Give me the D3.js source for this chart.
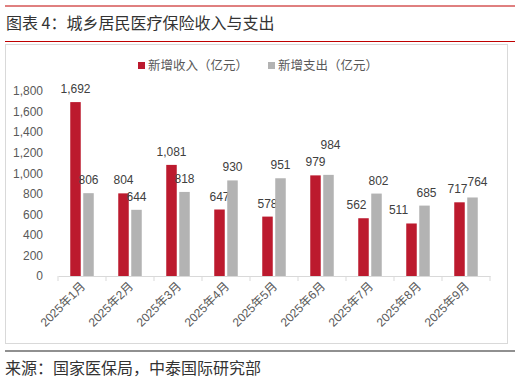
<!DOCTYPE html>
<html>
<head>
<meta charset="utf-8">
<script src="https://cdn.jsdelivr.net/npm/d3@7"></script>
<style>
  body { margin: 0; background: #fff; }
  svg { display: block; font-family: "Liberation Sans", "Noto Sans CJK SC", sans-serif; }
</style>
</head>
<body>
<svg id="chart" width="521" height="381"></svg>
<script>
// 数据
const months = ["2025年1月", "2025年2月", "2025年3月", "2025年4月", "2025年5月",
                "2025年6月", "2025年7月", "2025年8月", "2025年9月"];
const income = [1692, 804, 1081, 647, 578, 979, 562, 511, 717];
const expense = [806, 644, 818, 930, 951, 984, 802, 685, 764];
const seriesNames = ["新增收入（亿元）", "新增支出（亿元）"];
const yTicks = [0, 200, 400, 600, 800, 1000, 1200, 1400, 1600, 1800];

const RED = "#BC1A2E", GRAY = "#B3B3B3";
const cjk = '"Noto Sans CJK SC", sans-serif';

// 标签微调（与原图一致，避免重叠）
const nudge = {
    "0-2025年7月": [-7, 0],
    "0-2025年8月": [-13, 0],
    "0-2025年9月": [-2, 0],
    "1-2025年6月": [2, -17],
    "1-2025年7月": [2, 0],
    "1-2025年8月": [2, 0],
    "1-2025年9月": [5, -2]
};

const svg = d3.select("#chart");

// 页眉
svg.append("line").attr("x1", 5).attr("x2", 515).attr("y1", 6).attr("y2", 6)
    .attr("stroke", "#C00000").attr("stroke-width", 1);
svg.append("text").attr("x", 6).attr("y", 29)
    .style("font-family", cjk).style("font-size", "16px").attr("fill", "#333")
    .text("图表 4：城乡居民医疗保险收入与支出");
svg.append("line").attr("x1", 5).attr("x2", 515).attr("y1", 41.5).attr("y2", 41.5)
    .attr("stroke", "#C00000").attr("stroke-width", 1);

// 图框
svg.append("rect").attr("x", 5.5).attr("y", 44.5).attr("width", 502).attr("height", 299)
    .attr("fill", "#fff").attr("stroke", "#D9D9D9");

// 页脚
svg.append("line").attr("x1", 5).attr("x2", 515).attr("y1", 351).attr("y2", 351)
    .attr("stroke", "#222").attr("stroke-width", 1.2);
svg.append("text").attr("x", 5).attr("y", 374)
    .style("font-family", cjk).style("font-size", "16px").attr("fill", "#333")
    .text("来源：国家医保局，中泰国际研究部");

// 坐标
const x = d3.scaleBand().domain(months).range([58, 490]);
const y = d3.scaleLinear().domain([0, 1800]).range([276, 91]);
const barW = 10.5, gap = 2.5;

const yAxis = svg.append("g").attr("transform", "translate(58,0)")
    .call(d3.axisLeft(y).tickValues(yTicks).tickFormat(d3.format(",")).tickSize(0).tickPadding(15));
yAxis.select(".domain").remove();
yAxis.selectAll("text").attr("fill", "#595959").style("font-size", "12px");

const xAxis = svg.append("g").attr("transform", "translate(0,276)")
    .call(d3.axisBottom(x).tickSize(0).tickFormat(""));
xAxis.select(".domain").attr("stroke", "#D9D9D9");
svg.append("g").selectAll("line")
    .data(months.concat(["end"]))
    .join("line")
    .attr("x1", (d, i) => 58 + i * x.step()).attr("x2", (d, i) => 58 + i * x.step())
    .attr("y1", 276).attr("y2", 281)
    .attr("stroke", "#D9D9D9");

svg.append("g").selectAll("text")
    .data(months)
    .join("text")
    .attr("transform", d => `translate(${x(d) + x.bandwidth() / 2 + 4},287) rotate(-45)`)
    .attr("text-anchor", "end")
    .attr("fill", "#595959")
    .style("font-size", "12px")
    .text(d => d);

// 柱子
const cx = d => x(d) + x.bandwidth() / 2;
const series = [
    { name: seriesNames[0], values: income, color: RED, off: -gap / 2 - barW },
    { name: seriesNames[1], values: expense, color: GRAY, off: gap / 2 }
];

series.forEach((s, si) => {
    const g = svg.append("g");
    g.selectAll("rect")
        .data(months)
        .join("rect")
        .attr("x", d => cx(d) + s.off)
        .attr("width", barW)
        .attr("y", (d, i) => y(s.values[i]))
        .attr("height", (d, i) => y(0) - y(s.values[i]))
        .attr("fill", s.color);
    g.selectAll("text")
        .data(months)
        .join("text")
        .attr("x", d => cx(d) + s.off + barW / 2 + (nudge[si + "-" + d] || [0, 0])[0])
        .attr("y", (d, i) => y(s.values[i]) - 9 + (nudge[si + "-" + d] || [0, 0])[1])
        .attr("text-anchor", "middle")
        .attr("fill", "#404040")
        .style("font-size", "12px")
        .text((d, i) => d3.format(",")(s.values[i]));
});

// 图例
const legend = [
    { name: seriesNames[0], color: RED, x: 138 },
    { name: seriesNames[1], color: GRAY, x: 268 }
];
const lg = svg.append("g").selectAll("g").data(legend).join("g")
    .attr("transform", d => `translate(${d.x},62)`);
lg.append("rect").attr("width", 7).attr("height", 7).attr("fill", d => d.color);
lg.append("text").attr("x", 10).attr("y", 8)
    .style("font-family", cjk).style("font-size", "12.5px").attr("fill", "#595959")
    .text(d => d.name);
</script>
</body>
</html>
